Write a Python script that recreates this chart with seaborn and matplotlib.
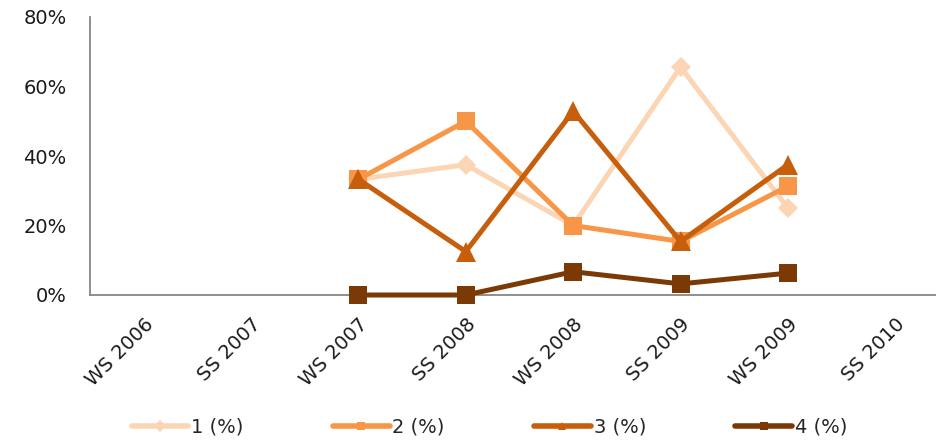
import numpy as np
import pandas as pd
import matplotlib
matplotlib.use("Agg")
import matplotlib.pyplot as plt
import seaborn as sns
from matplotlib.ticker import FuncFormatter

categories = ["WS 2006", "SS 2007", "WS 2007", "SS 2008", "WS 2008", "SS 2009", "WS 2009", "SS 2010"]
s1 = [np.nan, np.nan, 33.3, 37.5, 20.0, 65.6, 25.0, np.nan]
s2 = [np.nan, np.nan, 33.3, 50.0, 20.0, 15.4, 31.3, np.nan]
s3 = [np.nan, np.nan, 33.3, 12.5, 52.9, 15.4, 37.5, np.nan]
s4 = [np.nan, np.nan, 0.0, 0.0, 6.7, 3.2, 6.3, np.nan]
series_names = ["1 (%)", "2 (%)", "3 (%)", "4 (%)"]
series_values = [s1, s2, s3, s4]
colors = ["#FCD5B4", "#F79646", "#C65E0C", "#7B3A05"]
markers = ["D", "s", "^", "s"]
msizes = [10, 13, 15, 12.5]

sns.set_style("white")
plt.rcParams['font.family'] = ['DejaVu Sans']

fig = plt.figure(figsize=(9.36, 4.42), dpi=100)
ax = fig.add_axes([90/936, 1 - 295/442, (949 - 90)/936, (295 - 17)/442])

x = np.arange(len(categories))
for i, (name, vals, c, m, ms) in enumerate(zip(series_names, series_values, colors, markers, msizes)):
    df = pd.DataFrame({"x": x, "y": vals}).dropna()
    sns.lineplot(data=df, x="x", y="y", ax=ax, color=c, marker=m, markersize=ms,
                 linewidth=3.6, markeredgewidth=0, label=name, legend=False,
                 clip_on=False, zorder=3 + i)

ax.set_xlim(-0.5, len(categories) - 0.5)
ax.set_ylim(0, 80)
ax.set_yticks([0, 20, 40, 60, 80])
ax.yaxis.set_major_formatter(FuncFormatter(lambda v, p: f"{v:.0f}%"))
ax.set_xticks(x)
ax.set_xticklabels(categories, rotation=45, ha="right", rotation_mode="anchor")
ax.set_xlabel("")
ax.set_ylabel("")
for sp in ["top", "right"]:
    ax.spines[sp].set_visible(False)
for sp in ["left", "bottom"]:
    ax.spines[sp].set_color("#868686")
    ax.spines[sp].set_linewidth(1.3)
ax.tick_params(axis="y", length=5, width=1.3, color="#868686", labelsize=14, labelcolor="#1a1a1a", pad=12)
ax.tick_params(axis="x", length=0, labelsize=14, labelcolor="#1a1a1a", pad=14)
ax.grid(False)

handles, labels = ax.get_legend_handles_labels()
leg = fig.legend(handles, labels, loc="center", bbox_to_anchor=(0.523, 0.034), ncol=4,
                 frameon=False, fontsize=14, handlelength=2.9, columnspacing=4.6,
                 handletextpad=0.15)
for h in leg.legend_handles:
    h.set_markersize(6)
    h.set_linewidth(4)

fig.savefig("out.png", dpi=100)
